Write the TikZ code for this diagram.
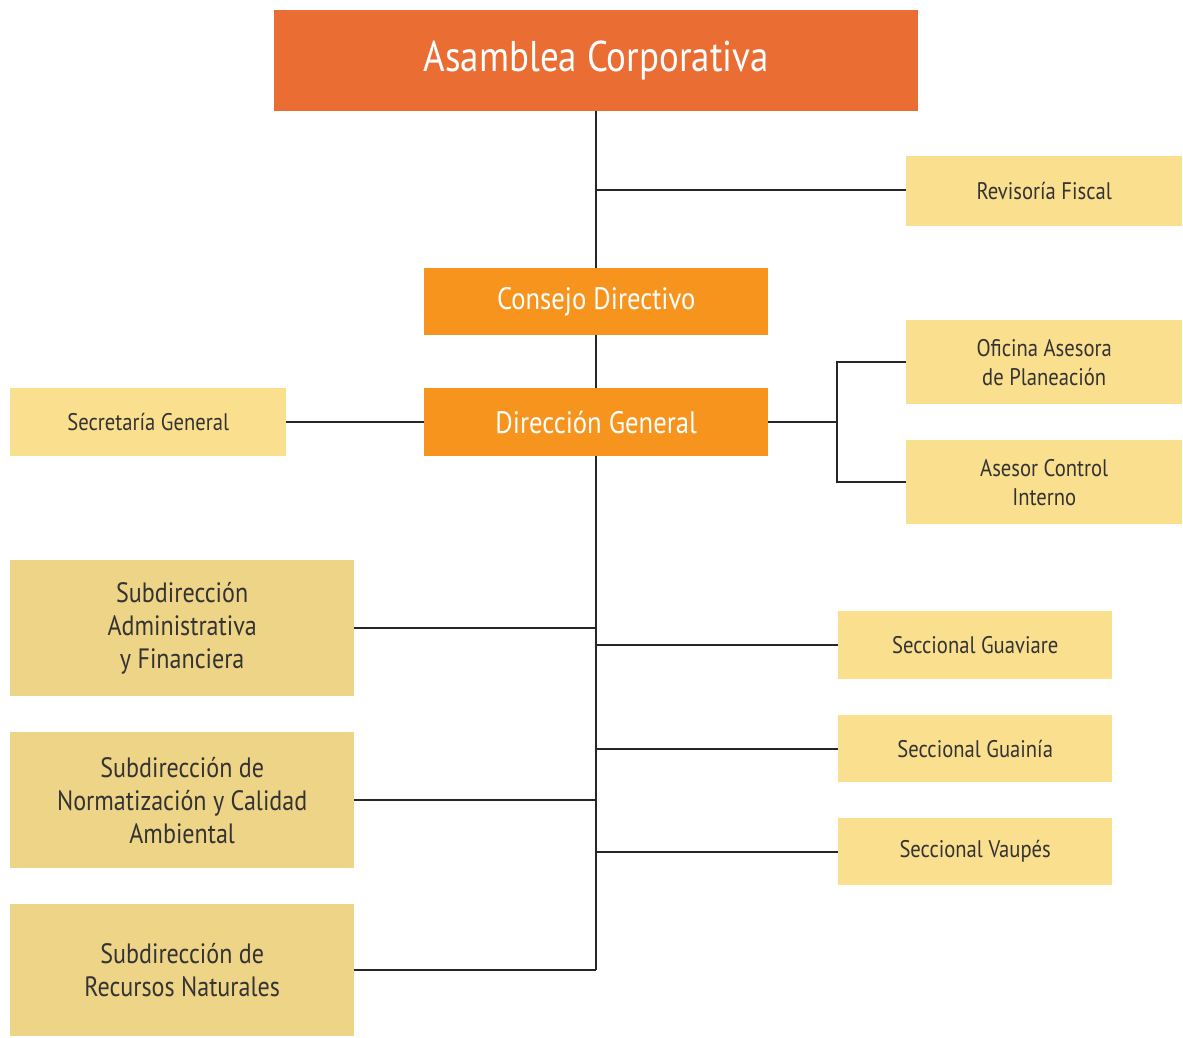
\documentclass[tikz,border=0pt]{standalone}
\usepackage{fontspec}
\setmainfont{PT Sans}[FakeStretch=0.86]
\definecolor{cAsam}{HTML}{EA6E33}
\definecolor{cOr}{HTML}{F7941D}
\definecolor{cLy}{HTML}{FADF8F}
\definecolor{cTan}{HTML}{EED487}
\definecolor{cTxt}{HTML}{333333}
\tikzset{
  box/.style={anchor=north west, inner sep=0pt, align=center, draw=none},
  topbox/.style={box, fill=cAsam, text=white, font=\fontsize{43}{48}\selectfont},
  orbox/.style={box, fill=cOr, text=white, font=\fontsize{31}{36}\selectfont},
  lybox/.style={box, fill=cLy, text=cTxt, font=\fontsize{24}{29}\selectfont},
  tanbox/.style={box, fill=cTan, text=cTxt, font=\fontsize{28}{33}\selectfont},
  conn/.style={draw=black!85, line width=1.6pt},
}
\begin{document}
\begin{tikzpicture}[x=1pt,y=-1pt]
\useasboundingbox[fill=white] (0,0) rectangle (1183,1038);
% nodes
\node[topbox, minimum width=644pt, minimum height=101pt] (asam) at (274,10) {Asamblea Corporativa};
\node[lybox, minimum width=276pt, minimum height=70pt] (rev) at (906,156) {Revisoría Fiscal};
\node[orbox, minimum width=344pt, minimum height=67pt] (cons) at (424,268) {Consejo Directivo};
\node[orbox, minimum width=344pt, minimum height=68pt] (dir) at (424,388) {Dirección General};
\node[lybox, minimum width=276pt, minimum height=68pt] (sec) at (10,388) {Secretaría General};
\node[lybox, minimum width=276pt, minimum height=84pt] (ofi) at (906,320) {Oficina Asesora\\de Planeación};
\node[lybox, minimum width=276pt, minimum height=84pt] (ase) at (906,440) {Asesor Control\\Interno};
\node[tanbox, minimum width=344pt, minimum height=136pt] (sadm) at (10,560) {Subdirección\\Administrativa\\y Financiera};
\node[tanbox, minimum width=344pt, minimum height=136pt] (snor) at (10,732) {Subdirección de\\Normatización y Calidad\\Ambiental};
\node[tanbox, minimum width=344pt, minimum height=132pt] (srec) at (10,904) {Subdirección de\\Recursos Naturales};
\node[lybox, minimum width=274pt, minimum height=68pt] (sgv) at (838,611) {Seccional Guaviare};
\node[lybox, minimum width=274pt, minimum height=67pt] (sgn) at (838,715) {Seccional Guainía};
\node[lybox, minimum width=274pt, minimum height=67pt] (svp) at (838,818) {Seccional Vaupés};
% coordinates
\coordinate (vx) at (596,0);
\coordinate (rx) at (837,0);
\coordinate (bot) at (srec.east -| vx);
% connectors
\draw[conn] (asam.south -| vx) -- (cons.north -| vx);
\draw[conn] (596,190) -- (rev.west |- 0,190);
\draw[conn] (cons.south -| vx) -- (dir.north -| vx);
\draw[conn] (dir.south -| vx) -- (bot);
\draw[conn] (sec.east) -- (dir.west);
\draw[conn] (dir.east) -- (dir.east -| rx);
\draw[conn] (ofi.west) -| (dir.east -| rx) |- (ase.west);
\draw[conn] (sadm.east) -- (sadm.east -| vx);
\draw[conn] (snor.east) -- (snor.east -| vx);
\draw[conn] (srec.east) -- (bot);
\draw[conn] (sgv.west) -- (sgv.west -| vx);
\draw[conn] (sgn.west) -- (sgn.west -| vx);
\draw[conn] (svp.west) -- (svp.west -| vx);
\end{tikzpicture}
\end{document}
